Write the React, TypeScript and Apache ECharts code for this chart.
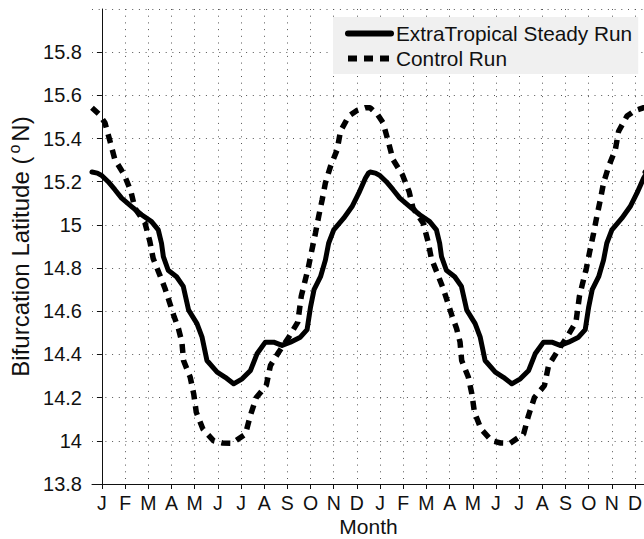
import React, { useEffect, useRef } from "react";
import * as echarts from "echarts";

// Month letters shown under the axis (two years of climatology)
const monthLetters = ["J", "F", "M", "A", "M", "J", "J", "A", "S", "O", "N", "D"];
const yearsShown = 2;

// Position in months, 0 = middle of January; axis starts 3/7 month before it
const axisStart = -3 / 7;
const axisEnd = 12 * yearsShown - 1 + 3 / 7;

// ExtraTropical Steady Run: annual cycle (month position, latitude °N)
const steadyMonths = [
  -0.43, -0.2, 0.0, 0.27, 0.56, 0.85, 1.28, 1.71, 2.14, 2.43, 2.57, 2.65, 2.86, 3.22, 3.51, 3.74,
  4.1, 4.32, 4.53, 4.97, 5.32, 5.68, 6.05, 6.41, 6.69, 7.05, 7.41, 7.77, 8.13, 8.56, 8.85, 9.0,
  9.15, 9.43, 9.64, 9.78, 10.0, 10.43, 10.79, 11.08, 11.37, 11.5,
];
const steadyValues = [
  15.245, 15.24, 15.228, 15.2, 15.163, 15.124, 15.085, 15.047, 15.015, 14.977, 14.915, 14.853,
  14.79, 14.76, 14.715, 14.605, 14.543, 14.48, 14.372, 14.318, 14.294, 14.264, 14.287, 14.326,
  14.403, 14.457, 14.457, 14.442, 14.457, 14.48, 14.515, 14.62, 14.7, 14.76, 14.837, 14.915,
  14.977, 15.031, 15.085, 15.147, 15.217, 15.24,
];

// Control Run: annual cycle (month position, latitude °N)
const controlMonths = [
  -0.43, -0.1, 0.13, 0.35, 0.56, 0.96, 1.25, 1.42, 1.86, 2.07, 2.21, 2.5, 2.72, 3.1, 3.3, 3.45,
  3.52, 3.81, 3.96, 4.07, 4.36, 4.82, 5.2, 5.61, 6.19, 6.4, 6.66, 7.09, 7.27, 7.63, 8.06, 8.45,
  8.6, 8.9, 9.05, 9.21, 9.35, 9.5, 9.64, 9.86, 10.15, 10.29, 10.65, 11.0, 11.37,
];
const controlValues = [
  15.543, 15.51, 15.473, 15.387, 15.302, 15.233, 15.155, 15.078, 15.008, 14.922, 14.845, 14.767,
  14.706, 14.58, 14.52, 14.457, 14.372, 14.294, 14.217, 14.132, 14.054, 14.0, 13.99, 13.989,
  14.031, 14.116, 14.201, 14.256, 14.349, 14.411, 14.48, 14.55, 14.67, 14.8, 14.88, 14.961,
  15.039, 15.116, 15.194, 15.271, 15.349, 15.434, 15.504, 15.53, 15.543,
];

// y axis ticks
const yMin = 13.8;
const yMax = 16;
const yStep = 0.2;

const FONT = "'Liberation Sans', Arial, Helvetica, sans-serif";
const INK = "#111";

// The same climatological cycle is drawn once per year shown
function repeatCycle(months: number[], values: number[]): [number, number][] {
  const out: [number, number][] = [];
  for (let y = 0; y < yearsShown; y++) {
    months.forEach((m, i) => out.push([m + 12 * y, values[i]]));
  }
  out.push([axisEnd, values[0]]);
  return out;
}

// Category points every 1/7 month across the axis; month ticks sit on every 7th point
const stepsPerMonth = 7;
const pointCount = Math.round((axisEnd - axisStart) * stepsPerMonth) + 1;
const tickPoints = Array.from({ length: pointCount }, (_, i) => String(i));
const firstTick = Math.round(-axisStart * stepsPerMonth);
const isMonthTick = (i: number) => i >= firstTick && (i - firstTick) % stepsPerMonth === 0;

export default function App() {
  const ref = useRef<HTMLDivElement>(null);

  useEffect(() => {
    if (!ref.current) return;
    const chart = echarts.init(ref.current, undefined, { renderer: "svg" });

    const dotted = { color: "#555", width: 1, type: [1, 5.7] as number[] };

    chart.setOption({
      animation: false,
      backgroundColor: "#fff",
      textStyle: { fontFamily: FONT, color: INK },
      grid: {
        left: 92,
        right: -1,
        top: 9,
        bottom: 55,
        containLabel: false,
        outerBoundsMode: "none",
      },
      legend: {
        orient: "vertical",
        left: 333,
        top: 17,
        padding: [5, 6, 4, 12],
        backgroundColor: "#f0f0f0",
        itemWidth: 43,
        itemHeight: 14,
        itemGap: 2,
        itemStyle: { opacity: 0 },
        lineStyle: { width: 6 },
        textStyle: { fontFamily: FONT, fontSize: 20.8, lineHeight: 23, color: INK },
        data: ["ExtraTropical Steady Run", "Control Run"],
      },
      xAxis: [
        {
          type: "category",
          data: tickPoints,
          boundaryGap: false,
          name: "Month",
          nameLocation: "middle",
          nameGap: 33,
          nameMoveOverlap: false,
          nameTextStyle: { fontFamily: FONT, fontSize: 21, lineHeight: 18, color: INK },
          axisLine: { lineStyle: { color: INK, width: 1 } },
          axisTick: {
            interval: (i: number) => isMonthTick(i),
            length: 5,
            lineStyle: { color: INK },
          },
          axisLabel: {
            interval: (i: number) => isMonthTick(i),
            formatter: (_v: string, i: number) =>
              isMonthTick(i) ? monthLetters[((i - firstTick) / stepsPerMonth) % 12] : "",
            fontFamily: FONT,
            fontSize: 19.5,
            lineHeight: 18,
            color: INK,
            margin: 10,
          },
          splitLine: {
            show: true,
            interval: (i: number) => isMonthTick(i),
            lineStyle: dotted,
          },
        },
        {
          type: "value",
          min: axisStart,
          max: axisEnd,
          show: false,
        },
      ],
      yAxis: {
        type: "value",
        min: yMin,
        max: yMax,
        interval: yStep,
        name: "{t|Bifurcation Latitude (}{s|o}{t|N)}",
        nameLocation: "middle",
        nameGap: 52,
        nameTextStyle: {
          fontFamily: FONT,
          color: INK,
          rich: {
            t: { fontFamily: FONT, fontSize: 24, color: INK },
            s: { fontFamily: FONT, fontSize: 16, color: INK, padding: [0, 3, 12, 3] },
          },
        },
        axisLine: { show: true, lineStyle: { color: INK, width: 1 } },
        axisTick: { show: true, length: 5, lineStyle: { color: INK } },
        axisLabel: {
          fontFamily: FONT,
          fontSize: 20,
          color: INK,
          margin: 10,
          showMaxLabel: false,
          formatter: (v: number) => String(Math.round(v * 10) / 10),
        },
        splitLine: { show: true, lineStyle: dotted },
      },
      series: [
        {
          name: "ExtraTropical Steady Run",
          type: "line",
          xAxisIndex: 1,
          data: repeatCycle(steadyMonths, steadyValues),
          symbol: "none",
          lineStyle: { color: "#000", width: 5, cap: "round", join: "round" },
          itemStyle: { color: "#000" },
          z: 3,
        },
        {
          name: "Control Run",
          type: "line",
          xAxisIndex: 1,
          data: repeatCycle(controlMonths, controlValues),
          symbol: "none",
          lineStyle: { color: "#000", width: 5.5, type: [9, 7], cap: "butt" },
          itemStyle: { color: "#000" },
          z: 2,
        },
      ],
    });

    return () => chart.dispose();
  }, []);

  return (
    <div
      ref={ref}
      style={{ position: "absolute", left: 0, top: 0, width: 644, height: 539, background: "#fff" }}
    />
  );
}
